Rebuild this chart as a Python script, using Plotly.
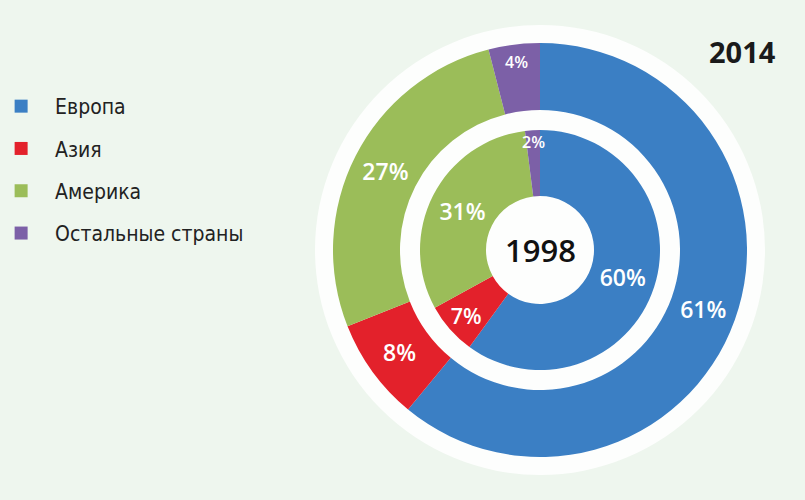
import math
import plotly.graph_objects as go

labels = ["Европа", "Азия", "Америка", "Остальные страны"]
colors = ["#3b7fc4", "#e3212b", "#9bbd59", "#7c60a7"]
values_2014 = [61, 8, 27, 4]
values_1998 = [60, 7, 31, 2]

W, H = 805, 500
cx, cy = 540, 250   # centre of the rings, px
r_white = 225
r_out, r_out_hole = 207, 140
r_in, r_in_hole = 120, 54

bg = "#eef6ee"
txt_font = "Open Sans"


def dom(r):
    return dict(x=[(cx - r) / W, (cx + r) / W], y=[(H - cy - r) / H, (H - cy + r) / H])


def small_label(values, i, r, size):
    # slices too thin for plotly's inside text: put the label on the slice bisector
    total = sum(values)
    mid = (sum(values[:i]) + values[i] / 2) / total * 2 * math.pi
    x = cx + r * math.sin(mid)
    y = cy - r * math.cos(mid)
    fig.add_annotation(text=f"{values[i]}%", x=x / W, y=1 - y / H, xref="paper", yref="paper",
                       xanchor="center", yanchor="middle", showarrow=False,
                       font=dict(family=txt_font, size=size, color="white", weight=600))


fig = go.Figure()

pos = ["inside", "inside", "inside", "none"]
fig.add_trace(go.Pie(
    labels=labels, values=values_2014, sort=False, direction="clockwise", rotation=0,
    hole=r_out_hole / r_out, domain=dom(r_out),
    marker=dict(colors=colors, line=dict(width=0)),
    texttemplate="%{value}%", textposition=pos, insidetextorientation="horizontal",
    textfont=dict(family=txt_font, color="white", size=23, weight=600),
    showlegend=False, hoverinfo="label+value",
))
fig.add_trace(go.Pie(
    labels=labels, values=values_1998, sort=False, direction="clockwise", rotation=0,
    hole=r_in_hole / r_in, domain=dom(r_in),
    marker=dict(colors=colors, line=dict(width=0)),
    texttemplate="%{value}%", textposition=pos, insidetextorientation="horizontal",
    textfont=dict(family=txt_font, color="white", size=23, weight=600),
    showlegend=False, hoverinfo="label+value",
))

small_label(values_2014, 3, 189, 16)
small_label(values_1998, 3, 108, 16)

# legend entries (one group each so the rows can be spaced out)
for lab, col in zip(labels, colors):
    fig.add_trace(go.Scatter(
        x=[None], y=[None], mode="markers", name=lab, legendgroup=lab,
        marker=dict(symbol="square", size=13, color=col),
    ))

# white disc behind both rings
fig.add_shape(type="circle", xref="paper", yref="paper", layer="below",
              x0=(cx - r_white) / W, x1=(cx + r_white) / W,
              y0=(H - cy - r_white) / H, y1=(H - cy + r_white) / H,
              fillcolor="#fdfefd", line=dict(width=0))

fig.add_annotation(text="2014", x=742 / W, y=1 - 52 / H, xref="paper", yref="paper",
                   xanchor="center", yanchor="middle", showarrow=False,
                   font=dict(family=txt_font, size=29, color="#1a1a1a", weight=700))
fig.add_annotation(text="1998", x=cx / W, y=1 - cy / H, xref="paper", yref="paper",
                   xanchor="center", yanchor="middle", showarrow=False,
                   font=dict(family=txt_font, size=31, color="#111111", weight=600))

fig.update_layout(
    width=W, height=H,
    margin=dict(l=0, r=0, t=0, b=0, autoexpand=False),
    paper_bgcolor=bg, plot_bgcolor=bg,
    xaxis=dict(visible=False), yaxis=dict(visible=False),
    legend=dict(x=-0.016, y=1 - 86 / H, xanchor="left", yanchor="top",
                itemwidth=58, tracegroupgap=12, bgcolor="rgba(0,0,0,0)",
                font=dict(family="DejaVu Sans Condensed", size=21, color="#222222")),
)

fig.write_html("out.html", config={"displayModeBar": False},
               post_script="document.body.style.margin='0';document.body.style.background='%s';" % bg)
